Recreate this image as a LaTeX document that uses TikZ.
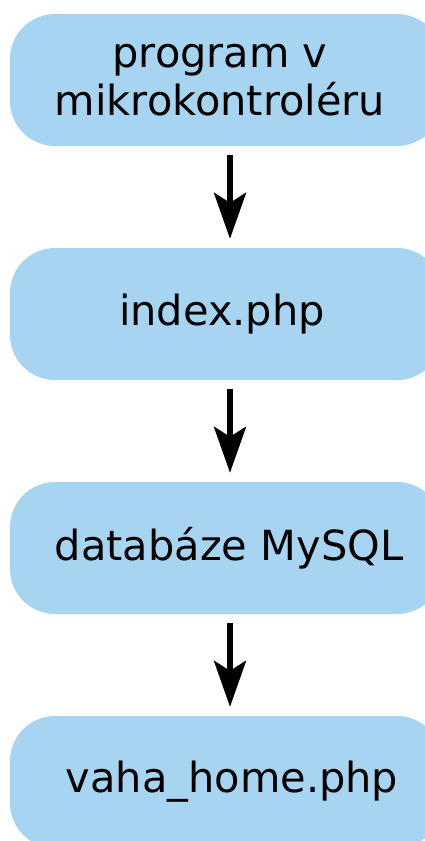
\documentclass[tikz,border=0pt]{standalone}
\usepackage{fontspec}
\setmainfont{DejaVu Sans}
\usetikzlibrary{arrows.meta}
\definecolor{boxblue}{HTML}{A7D5F1}
\begin{document}
\begin{tikzpicture}[x=1pt,y=1pt,
  box/.style={fill=boxblue, draw=none, rounded corners=45pt, minimum width=432pt, minimum height=132pt, inner sep=0pt},
  txt/.style={font=\fontsize{41.5}{48.5}\selectfont, align=center, inner sep=0pt},
  arr/.style={line width=5.5pt, -{Stealth[length=46pt, width=32pt, inset=10pt]}}]
\useasboundingbox (0,0) rectangle (425,-841);
\node[box] (b1) at (226,-80) {};
\node[box] (b2) at (226,-314) {};
\node[box] (b3) at (226,-548) {};
\node[box] (b4) at (226,-782) {};
\node[txt] (t1) at ([xshift=-6pt]b1.center) {program v\\mikrokontroléru};
\node[txt] (t2) at ([xshift=-4pt]b2.center) {index.php};
\node[txt] (t3) at ([xshift=3pt]b3.center) {databáze MySQL};
\node[txt] (t4) at ([xshift=6pt]b4.center) {vaha\_home.php};
\draw[arr] ([xshift=4pt,yshift=-9pt]b1.south) -- ([xshift=4pt,yshift=9pt]b2.north);
\draw[arr] ([xshift=4pt,yshift=-9pt]b2.south) -- ([xshift=4pt,yshift=9pt]b3.north);
\draw[arr] ([xshift=4pt,yshift=-9pt]b3.south) -- ([xshift=4pt,yshift=9pt]b4.north);
\end{tikzpicture}
\end{document}
